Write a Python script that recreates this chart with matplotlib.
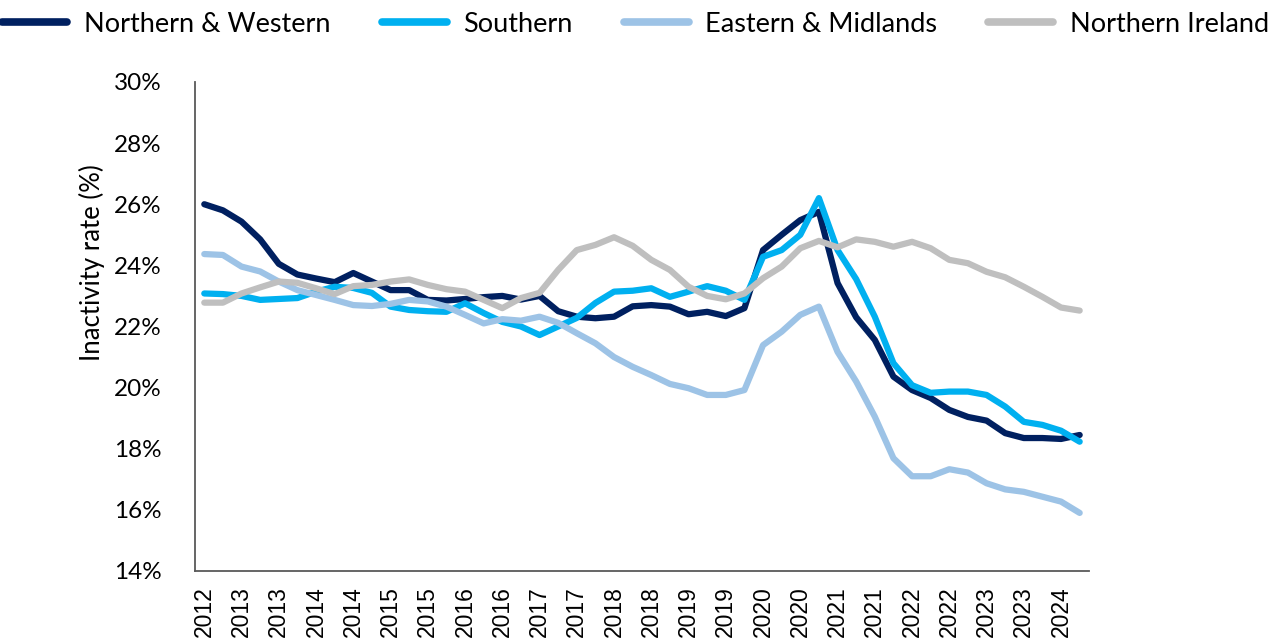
import numpy as np
import matplotlib
matplotlib.use("Agg")
import matplotlib.pyplot as plt

# quarterly series, 2012 Q3 .. 2024 Q2 (48 points)
quarters = ["2012", "2012", "2013", "2013", "2013", "2013", "2014", "2014",
            "2014", "2014", "2015", "2015", "2015", "2015", "2016", "2016",
            "2016", "2016", "2017", "2017", "2017", "2017", "2018", "2018",
            "2018", "2018", "2019", "2019", "2019", "2019", "2020", "2020",
            "2020", "2020", "2021", "2021", "2021", "2021", "2022", "2022",
            "2022", "2022", "2023", "2023", "2023", "2023", "2024", "2024"]

northern_western = [26.00, 25.80, 25.43, 24.85, 24.05, 23.70, 23.57, 23.45,
                    23.75, 23.47, 23.19, 23.19, 22.87, 22.85, 22.90, 22.96,
                    23.00, 22.88, 23.00, 22.50, 22.32, 22.27, 22.32, 22.66,
                    22.70, 22.65, 22.40, 22.48, 22.34, 22.60, 24.50, 25.00,
                    25.48, 25.75, 23.42, 22.30, 21.56, 20.36, 19.92, 19.66,
                    19.27, 19.04, 18.92, 18.51, 18.35, 18.35, 18.32, 18.45]

southern = [23.08, 23.06, 23.00, 22.87, 22.90, 22.93, 23.14, 23.30,
            23.26, 23.10, 22.65, 22.54, 22.50, 22.48, 22.76, 22.44,
            22.15, 22.00, 21.72, 22.00, 22.28, 22.77, 23.14, 23.17,
            23.25, 22.97, 23.14, 23.32, 23.17, 22.87, 24.28, 24.50,
            25.00, 26.20, 24.50, 23.55, 22.32, 20.80, 20.08, 19.83,
            19.87, 19.87, 19.76, 19.38, 18.88, 18.78, 18.59, 18.23]

eastern_midlands = [24.37, 24.34, 23.96, 23.80, 23.47, 23.19, 23.03, 22.87,
                    22.70, 22.67, 22.74, 22.87, 22.82, 22.65, 22.38, 22.10,
                    22.24, 22.19, 22.32, 22.12, 21.78, 21.45, 21.00, 20.68,
                    20.41, 20.12, 19.98, 19.76, 19.76, 19.92, 21.39, 21.83,
                    22.38, 22.65, 21.17, 20.20, 19.05, 17.69, 17.10, 17.10,
                    17.33, 17.22, 16.87, 16.67, 16.59, 16.43, 16.27, 15.90]

northern_ireland = [22.78, 22.78, 23.08, 23.28, 23.47, 23.43, 23.25, 23.06,
                    23.32, 23.36, 23.47, 23.54, 23.36, 23.22, 23.14, 22.87,
                    22.60, 22.93, 23.10, 23.85, 24.50, 24.67, 24.92, 24.64,
                    24.18, 23.85, 23.30, 23.00, 22.89, 23.08, 23.58, 23.96,
                    24.56, 24.80, 24.59, 24.85, 24.77, 24.61, 24.77, 24.56,
                    24.18, 24.07, 23.79, 23.61, 23.30, 22.97, 22.62, 22.52]

series = [("Northern & Western", northern_western, "#002060"),
          ("Southern", southern, "#00B0F0"),
          ("Eastern & Midlands", eastern_midlands, "#9DC3E6"),
          ("Northern Ireland", northern_ireland, "#BFBFBF")]

fig = plt.figure(figsize=(12.71, 6.43), dpi=100)
ax = fig.add_axes([0.1534, 0.112, 0.7034, 0.7605])

x = np.arange(len(quarters))
for name, vals, col in series:
    ax.plot(x, vals, color=col, lw=4.5, label=name, solid_capstyle="round",
            solid_joinstyle="round")

ax.set_xlim(-0.5, len(quarters) - 0.5)
ax.set_ylim(14, 30)
ax.set_yticks(np.arange(14, 31, 2))
ax.set_yticklabels([f"{v}%" for v in range(14, 31, 2)], fontsize=17.5,
                   family="Lato")
ax.set_xticks(x[::2])
ax.set_xticklabels(quarters[::2], rotation=90, fontsize=16.5,
                   family="Liberation Sans")
ax.tick_params(length=0)
ax.tick_params(axis="x", pad=11)
ax.tick_params(axis="y", pad=24)
for s in ["top", "right"]:
    ax.spines[s].set_visible(False)
for s in ["left", "bottom"]:
    ax.spines[s].set_color("#595959")
    ax.spines[s].set_linewidth(1.3)

fig.text(92 / 1271, 1 - 263 / 643, "Inactivity rate (%)", rotation=90,
         ha="center", va="center", fontsize=18.5, family="Lato")

leg = fig.legend(loc="upper center", bbox_to_anchor=(0.5, 1.02), ncol=4,
                 frameon=False, handlelength=2.4, handletextpad=0.6,
                 columnspacing=1.9, prop={"family": "Lato", "size": 19.5})
for h in leg.get_lines():
    h.set_linewidth(5.5)

fig.savefig("out.png", dpi=100)
